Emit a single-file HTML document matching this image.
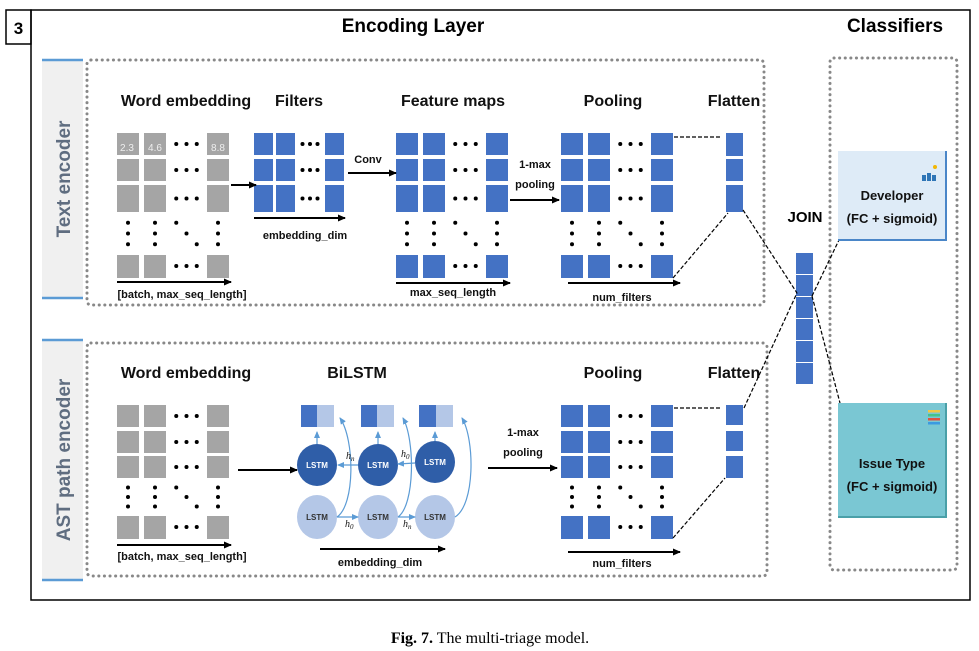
<!DOCTYPE html>
<html><head><meta charset="utf-8"><style>
html,body{margin:0;padding:0;background:#fff;}
svg{display:block;font-family:"Liberation Sans",sans-serif;}
.t{font-weight:bold;font-size:16px;fill:#111;}
.s{font-weight:bold;font-size:11px;fill:#111;}
</style></head><body>
<svg id="g" width="979" height="651" viewBox="0 0 979 651" xmlns="http://www.w3.org/2000/svg">
<defs>
<marker id="a" markerWidth="8" markerHeight="8" refX="7" refY="4" orient="auto" markerUnits="userSpaceOnUse"><path d="M0,0.5 L8,4 L0,7.5z" fill="#000"/></marker>
<marker id="b" markerWidth="7" markerHeight="7" refX="6" refY="3.5" orient="auto" markerUnits="userSpaceOnUse"><path d="M0,0.5 L7,3.5 L0,6.5z" fill="#5b9bd5"/></marker>
</defs>
<rect x="6" y="10" width="25" height="34" fill="#fff" stroke="#000" stroke-width="1.5"/>
<text x="18.5" y="34" text-anchor="middle" style="font-weight:bold;font-size:17px">3</text>
<path d="M31,10 H970 V600 H31 Z" fill="none" stroke="#000" stroke-width="1.5"/>
<text x="413" y="32" text-anchor="middle" style="font-weight:bold;font-size:19px">Encoding Layer</text>
<text x="895" y="32" text-anchor="middle" style="font-weight:bold;font-size:19px">Classifiers</text>
<!-- side bars -->
<rect x="42" y="60" width="41" height="238" fill="#f0f0f0"/>
<line x1="42" y1="60" x2="83" y2="60" stroke="#5b9bd5" stroke-width="2.5"/>
<line x1="42" y1="298" x2="83" y2="298" stroke="#5b9bd5" stroke-width="2.5"/>
<text transform="translate(70,179) rotate(-90)" text-anchor="middle" style="font-weight:bold;font-size:19px;fill:#5f6d80">Text encoder</text>
<rect x="42" y="340" width="41" height="240" fill="#f0f0f0"/>
<line x1="42" y1="340" x2="83" y2="340" stroke="#5b9bd5" stroke-width="2.5"/>
<line x1="42" y1="580" x2="83" y2="580" stroke="#5b9bd5" stroke-width="2.5"/>
<text transform="translate(70,460) rotate(-90)" text-anchor="middle" style="font-weight:bold;font-size:19px;fill:#5f6d80">AST path encoder</text>
<!-- dotted boxes -->
<g fill="none" stroke="#888" stroke-width="3" stroke-dasharray="0.1 5.5" stroke-linecap="round">
<rect x="87" y="60" width="677" height="245" rx="4"/>
<rect x="87" y="343" width="680" height="233" rx="4"/>
<rect x="830" y="58" width="127" height="512" rx="4"/>
</g>
<g id="dyn"></g>
<!-- headings -->
<text class="t" x="186" y="106" text-anchor="middle">Word embedding</text>
<text class="t" x="299" y="106" text-anchor="middle">Filters</text>
<text class="t" x="453" y="106" text-anchor="middle">Feature maps</text>
<text class="t" x="613" y="106" text-anchor="middle">Pooling</text>
<text class="t" x="734" y="106" text-anchor="middle">Flatten</text>
<text class="t" x="186" y="378" text-anchor="middle">Word embedding</text>
<text class="t" x="357" y="378" text-anchor="middle">BiLSTM</text>
<text class="t" x="613" y="378" text-anchor="middle">Pooling</text>
<text class="t" x="734" y="378" text-anchor="middle">Flatten</text>
<text class="s" x="182" y="298" text-anchor="middle">[batch, max_seq_length]</text>
<text class="s" x="305" y="239" text-anchor="middle">embedding_dim</text>
<text class="s" x="453" y="296" text-anchor="middle">max_seq_length</text>
<text class="s" x="622" y="301" text-anchor="middle">num_filters</text>
<text class="s" x="368" y="163" text-anchor="middle">Conv</text>
<text class="s" x="535" y="168" text-anchor="middle">1-max</text>
<text class="s" x="535" y="188" text-anchor="middle">pooling</text>
<text class="s" x="182" y="560" text-anchor="middle">[batch, max_seq_length]</text>
<text class="s" x="380" y="566" text-anchor="middle">embedding_dim</text>
<text class="s" x="622" y="567" text-anchor="middle">num_filters</text>
<text class="s" x="523" y="436" text-anchor="middle">1-max</text>
<text class="s" x="523" y="456" text-anchor="middle">pooling</text>
<!-- arrows -->
<g stroke="#000" stroke-width="2" marker-end="url(#a)">
<line x1="117" y1="282" x2="231" y2="282"/>
<line x1="254" y1="218" x2="345" y2="218"/>
<line x1="231" y1="185" x2="256" y2="185"/>
<line x1="348" y1="173" x2="396" y2="173"/>
<line x1="396" y1="283" x2="510" y2="283"/>
<line x1="510" y1="200" x2="559" y2="200"/>
<line x1="568" y1="283" x2="680" y2="283"/>
<line x1="117" y1="545" x2="231" y2="545"/>
<line x1="238" y1="470" x2="297" y2="470"/>
<line x1="320" y1="549" x2="445" y2="549"/>
<line x1="488" y1="468" x2="557" y2="468"/>
<line x1="568" y1="552" x2="680" y2="552"/>
</g>
<!-- dashed connectors -->
<g stroke="#000" stroke-width="1.2" stroke-dasharray="4 2" fill="none">
<line x1="674" y1="137" x2="722" y2="137"/>
<line x1="673" y1="278" x2="728" y2="213"/>
<line x1="743" y1="210" x2="797" y2="293"/>
<line x1="674" y1="408" x2="722" y2="408"/>
<line x1="673" y1="538" x2="725" y2="478"/>
<line x1="744" y1="408" x2="797" y2="293"/>
<line x1="812" y1="296" x2="839" y2="240"/>
<line x1="812" y1="296" x2="840" y2="403"/>
</g>
<text x="805" y="222" text-anchor="middle" style="font-weight:bold;font-size:15px">JOIN</text>
<!-- classifiers -->
<rect x="838" y="151" width="109" height="89" fill="#deebf7"/>
<path d="M946,151 V240 H838" stroke="#4a86c8" stroke-width="2" fill="none"/>
<text x="892" y="200" text-anchor="middle" class="s" style="font-size:13px">Developer</text>
<text x="892" y="223" text-anchor="middle" class="s" style="font-size:13px">(FC + sigmoid)</text>
<g fill="#2e75b6"><rect x="922" y="175" width="4" height="6"/><rect x="927" y="173" width="4" height="8"/><rect x="932" y="175" width="4" height="6"/><circle cx="935" cy="167" r="2" fill="#f2b705"/></g>
<rect x="838" y="403" width="109" height="114" fill="#7ac7d3"/>
<path d="M946,403 V517 H838" stroke="#4aa0a8" stroke-width="2" fill="none"/>
<text x="892" y="468" text-anchor="middle" class="s" style="font-size:13px">Issue Type</text>
<text x="892" y="491" text-anchor="middle" class="s" style="font-size:13px">(FC + sigmoid)</text>
<g><rect x="928" y="410" width="12" height="2.5" fill="#f2c744"/><rect x="928" y="414" width="12" height="2.5" fill="#48c28a"/><rect x="928" y="418" width="12" height="2.5" fill="#e0533f"/><rect x="928" y="422" width="12" height="2.5" fill="#3b9ae1"/></g>
<!-- BiLSTM -->
<g>
<rect x="301" y="405" width="16" height="22" fill="#4472c4"/><rect x="317" y="405" width="17" height="22" fill="#b4c7e7"/>
<rect x="361" y="405" width="16" height="22" fill="#4472c4"/><rect x="377" y="405" width="17" height="22" fill="#b4c7e7"/>
<rect x="419" y="405" width="17" height="22" fill="#4472c4"/><rect x="436" y="405" width="17" height="22" fill="#b4c7e7"/>
<ellipse cx="317" cy="465" rx="20" ry="21" fill="#2f5ea8"/>
<ellipse cx="378" cy="465" rx="20" ry="21" fill="#2f5ea8"/>
<ellipse cx="435" cy="462" rx="20" ry="21" fill="#2f5ea8"/>
<ellipse cx="317" cy="517" rx="20" ry="22" fill="#b4c7e7"/>
<ellipse cx="378" cy="517" rx="20" ry="22" fill="#b4c7e7"/>
<ellipse cx="435" cy="517" rx="20" ry="22" fill="#b4c7e7"/>
<g style="font-weight:bold;font-size:8px" text-anchor="middle" fill="#fff">
<text x="317" y="468">LSTM</text><text x="378" y="468">LSTM</text><text x="435" y="465">LSTM</text></g>
<g style="font-weight:bold;font-size:8px" text-anchor="middle" fill="#333">
<text x="317" y="520">LSTM</text><text x="378" y="520">LSTM</text><text x="435" y="520">LSTM</text></g>
<g stroke="#5b9bd5" stroke-width="1.2" fill="none" marker-end="url(#b)">
<line x1="317" y1="444" x2="317" y2="432"/><line x1="378" y1="444" x2="378" y2="432"/><line x1="435" y1="441" x2="435" y2="432"/>
<line x1="415" y1="463" x2="398" y2="464"/><line x1="358" y1="465" x2="338" y2="465"/>
<line x1="337" y1="517" x2="358" y2="517"/><line x1="398" y1="517" x2="415" y2="517"/>
<path d="M337,517 C355,505 355,440 340,418"/>
<path d="M398,517 C415,505 415,440 403,418"/>
<path d="M455,517 C475,505 475,440 462,418"/>
</g>
<g style="font-style:italic;font-size:10px;font-family:'Liberation Serif',serif" fill="#111">
<text x="346" y="459">h<tspan font-size="7" dy="2">n</tspan></text>
<text x="401" y="457">h<tspan font-size="7" dy="2">0</tspan></text>
<text x="345" y="527">h<tspan font-size="7" dy="2">0</tspan></text>
<text x="403" y="527">h<tspan font-size="7" dy="2">n</tspan></text>
</g>
</g>
<text x="490" y="643" text-anchor="middle" style="font-family:'Liberation Serif',serif;font-size:16px"><tspan font-weight="bold">Fig. 7.</tspan>  The multi-triage model.</text>
</svg>
<script>
var ns="http://www.w3.org/2000/svg",g=document.getElementById("dyn");
function R(x,y,w,h,f){var r=document.createElementNS(ns,"rect");r.setAttribute("x",x);r.setAttribute("y",y);r.setAttribute("width",w);r.setAttribute("height",h);r.setAttribute("fill",f);g.appendChild(r);}
function D(x,y){var c=document.createElementNS(ns,"circle");c.setAttribute("cx",x);c.setAttribute("cy",y);c.setAttribute("r",2);c.setAttribute("fill","#000");g.appendChild(c);}
function T(x,y,s){var t=document.createElementNS(ns,"text");t.setAttribute("x",x);t.setAttribute("y",y);t.setAttribute("text-anchor","middle");t.setAttribute("style","font-size:10px;fill:#eee");t.textContent=s;g.appendChild(t);}
function grid(xs,rows,last,col,w,full){
 rows.forEach(function(r){xs.forEach(function(x){R(x,r[0],w,r[1],col);});
  var a=xs[1]+w,b=xs[2];for(var i=1;i<=3;i++)D(a+(b-a)*i/4,r[0]+r[1]/2);});
 if(full){xs.forEach(function(x){R(x,last,w,23,col);});var a=xs[1]+w,b=xs[2];for(var i=1;i<=3;i++)D(a+(b-a)*i/4,last+11);
 var y0=rows[rows.length-1][0]+rows[rows.length-1][1],y1=last;
 [xs[0],xs[1],xs[2]].forEach(function(x){for(var i=1;i<=3;i++)D(x+w/2,y0+(y1-y0)*i/4);});
 for(var i=1;i<=3;i++)D(a+(b-a)*i/4,y0+(y1-y0)*i/4);}
}
var r1=[[133,22],[159,22],[185,27]],r2=[[405,22],[431,22],[456,22]];
grid([117,144,207],r1,255,"#a5a5a5",22,true);
T(127,151,"2.3");T(155,151,"4.6");T(218,151,"8.8");
grid([254,276,325],r1,0,"#4472c4",19,false);
grid([396,423,486],r1,255,"#4472c4",22,true);
grid([561,588,651],r1,255,"#4472c4",22,true);
grid([117,144,207],r2,516,"#a5a5a5",22,true);
grid([561,588,651],r2,516,"#4472c4",22,true);
[[133,23],[159,22],[185,27]].forEach(function(r){R(726,r[0],17,r[1],"#4472c4");});
[[405,20],[431,20],[456,22]].forEach(function(r){R(726,r[0],17,r[1],"#4472c4");});
for(var i=0;i<6;i++){R(796,253+i*22,17,21,"#4472c4");}
</script>
</body></html>
